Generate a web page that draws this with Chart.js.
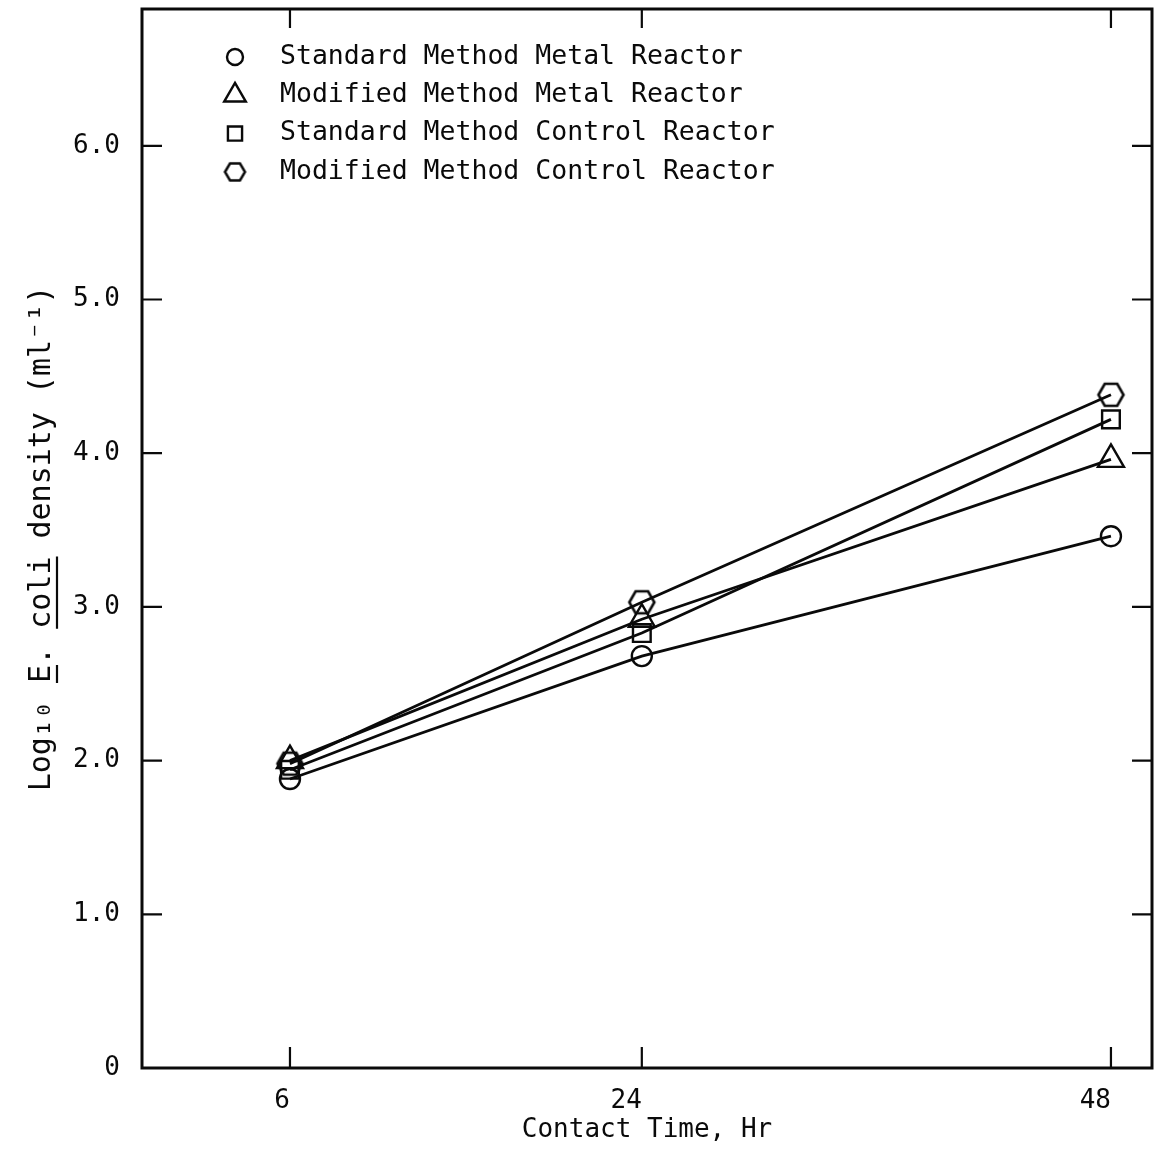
<!DOCTYPE html>
<html>
<head>
<meta charset="utf-8">
<script src="https://cdn.jsdelivr.net/npm/chart.js@4.4.1/dist/chart.umd.min.js"></script>
<style>
  html, body { margin: 0; padding: 0; background: #fff; }
  #wrap { width: 1156px; height: 1149px; }
</style>
</head>
<body>
<div id="wrap"><canvas id="chart"></canvas></div>
<script>
// contact time (hr) and log10 E. coli density for each reactor/method
const hours = [6, 24, 48];
const stdMetal = [1.88, 2.68, 3.46];
const modMetal = [2.00, 2.92, 3.96];
const stdControl = [1.94, 2.83, 4.22];
const modControl = [1.98, 3.03, 4.38];
const seriesNames = [
  'Standard Method Metal Reactor',
  'Modified Method Metal Reactor',
  'Standard Method Control Reactor',
  'Modified Method Control Reactor'
];
const yTicks = [0, 1, 2, 3, 4, 5, 6];

const INK = '#0a0a0a';
const MONO = '"DejaVu Sans Mono", "Liberation Mono", monospace';

// Chart.js has no hexagon marker, so build one on a small canvas
function hexagon(w, h, lw) {
  const c = document.createElement('canvas');
  c.width = Math.ceil(w + lw * 2);
  c.height = Math.ceil(h + lw * 2);
  const g = c.getContext('2d');
  const cx = c.width / 2, cy = c.height / 2;
  g.beginPath();
  g.moveTo(cx - w / 2, cy);
  g.lineTo(cx - w / 4, cy - h / 2);
  g.lineTo(cx + w / 4, cy - h / 2);
  g.lineTo(cx + w / 2, cy);
  g.lineTo(cx + w / 4, cy + h / 2);
  g.lineTo(cx - w / 4, cy + h / 2);
  g.closePath();
  g.lineWidth = lw;
  g.strokeStyle = INK;
  g.stroke();
  return c;
}

const markers = [
  { style: 'circle', radius: 10, legendStyle: 'circle', legendRadius: 8 },
  { style: 'triangle', radius: 15, legendStyle: 'triangle', legendRadius: 12.5 },
  { style: 'rect', radius: 12.5, legendStyle: 'rect', legendRadius: 10 },
  { style: hexagon(25, 22, 2.6), radius: 12, legendStyle: hexagon(20, 17, 2.5), legendRadius: 9 }
];

function pairs(values) {
  return values.map((v, i) => ({ x: hours[i], y: v }));
}

const seriesValues = [stdMetal, modMetal, stdControl, modControl];
const datasets = seriesValues.map((vals, i) => ({
  label: seriesNames[i],
  data: pairs(vals),
  borderColor: INK,
  borderWidth: 2.8,
  backgroundColor: 'rgba(0,0,0,0)',
  pointStyle: markers[i].style,
  pointRadius: markers[i].radius,
  pointBorderWidth: 2.4,
  pointBorderColor: INK,
  pointBackgroundColor: 'rgba(0,0,0,0)',
  fill: false,
  tension: 0
}));

// drop the extra room Chart.js keeps for edge labels so the plot fills the frame
function noEdgePadding(s) {
  s.paddingTop = 0;
  s.paddingBottom = 0;
  s.paddingLeft = 0;
  s.paddingRight = 0;
}

// box round the plot with inward tick marks on all four sides
const framePlugin = {
  id: 'frame',
  afterDraw(chart) {
    const { ctx, chartArea: a, scales: { x, y } } = chart;
    ctx.save();
    ctx.strokeStyle = INK;
    ctx.lineWidth = 3;
    ctx.strokeRect(a.left, a.top, a.right - a.left, a.bottom - a.top);
    ctx.lineWidth = 2.2;
    ctx.beginPath();
    x.ticks.forEach(t => {
      const px = x.getPixelForValue(t.value);
      ctx.moveTo(px, a.bottom); ctx.lineTo(px, a.bottom - 21);
      ctx.moveTo(px, a.top); ctx.lineTo(px, a.top + 19);
    });
    y.ticks.forEach(t => {
      if (t.value === 0) return;
      const py = y.getPixelForValue(t.value);
      ctx.moveTo(a.left, py); ctx.lineTo(a.left + 20, py);
      ctx.moveTo(a.right, py); ctx.lineTo(a.right - 20, py);
    });
    ctx.stroke();
    ctx.restore();
  }
};

// legend inside the plot, top left, one entry per line
const legendPlugin = {
  id: 'innerLegend',
  afterDraw(chart) {
    const { ctx, chartArea: a } = chart;
    ctx.save();
    ctx.font = '26.5px ' + MONO;
    ctx.textBaseline = 'middle';
    ctx.textAlign = 'left';
    chart.data.datasets.forEach((ds, i) => {
      const cy = a.top + 48 + i * 38.3;
      const mx = a.left + 93;
      ctx.strokeStyle = INK;
      ctx.fillStyle = 'rgba(0,0,0,0)';
      ctx.lineWidth = 2.4;
      Chart.helpers.drawPoint(ctx, {
        pointStyle: markers[i].legendStyle,
        radius: markers[i].legendRadius,
        borderWidth: 2.4,
        rotation: 0
      }, mx, cy);
      ctx.fillStyle = INK;
      ctx.fillText(ds.label, a.left + 138, cy);
    });
    ctx.restore();
  }
};

// underline "E." and "coli" in the y axis title
const underlinePlugin = {
  id: 'titleUnderline',
  afterDraw(chart) {
    const { ctx, scales: { y } } = chart;
    const t = y.options.title;
    const size = t.font.size;
    const text = t.text;
    ctx.save();
    ctx.font = size + 'px ' + MONO;
    const full = ctx.measureText(text).width;
    const tx = y.left + size * 1.2 / 2 + t.padding.top;
    const start = (y.top + y.bottom) / 2 + full / 2;
    const ux = tx + size * 0.5;
    ctx.strokeStyle = INK;
    ctx.lineWidth = 2.2;
    ctx.beginPath();
    ['E', 'coli'].forEach(word => {
      const idx = text.indexOf(word);
      const a = ctx.measureText(text.slice(0, idx)).width;
      const w = ctx.measureText(word).width;
      ctx.moveTo(ux, start - a);
      ctx.lineTo(ux, start - a - w);
    });
    ctx.stroke();
    ctx.restore();
  }
};

new Chart(document.getElementById('chart'), {
  type: 'line',
  data: { datasets },
  plugins: [framePlugin, legendPlugin, underlinePlugin],
  options: {
    responsive: true,
    maintainAspectRatio: false,
    animation: false,
    layout: { autoPadding: false, padding: { top: 9, right: 4, left: 0, bottom: 0 } },
    plugins: {
      legend: { display: false },
      tooltip: { enabled: false }
    },
    scales: {
      x: {
        type: 'linear',
        min: -1.57,
        max: 50.1,
        afterBuildTicks: s => { s.ticks = hours.map(v => ({ value: v })); },
        afterFit: s => { s.height = 81; noEdgePadding(s); },
        grid: { display: false },
        border: { display: false },
        ticks: {
          align: 'end',
          padding: 10,
          color: INK,
          font: { family: MONO, size: 26 },
          callback: v => String(v)
        },
        title: {
          display: true,
          text: 'Contact Time, Hr',
          color: INK,
          font: { family: MONO, size: 26 },
          padding: { top: 0, bottom: 3 }
        }
      },
      y: {
        type: 'linear',
        min: 0,
        max: 6.89,
        afterBuildTicks: s => { s.ticks = yTicks.map(v => ({ value: v })); },
        afterFit: s => { s.width = 142; noEdgePadding(s); },
        grid: { display: false },
        border: { display: false },
        ticks: {
          padding: 14,
          color: INK,
          font: { family: MONO, size: 26 },
          callback: v => v === 0 ? '0' : v.toFixed(1)
        },
        title: {
          display: true,
          text: 'Log₁₀ E. coli density (ml⁻¹)',
          color: INK,
          font: { family: MONO, size: 30 },
          padding: { top: 24, bottom: 0 }
        }
      }
    }
  }
});
</script>
</body>
</html>
